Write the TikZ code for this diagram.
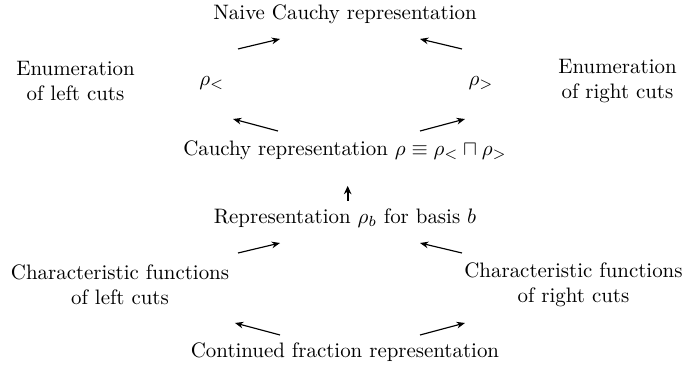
\documentclass[tikz,border=0pt]{standalone}
\usepackage{amsmath,amssymb}
\usepackage{tikz}
\usetikzlibrary{arrows.meta,positioning,calc}

\begin{document}
\begin{tikzpicture}[
    rep/.style={align=center, inner sep=1pt, font=\normalsize},
    arr/.style={-{Stealth[length=4pt,width=3.2pt]}, line width=0.55pt},
    bar/.style={-{Stealth[length=4pt,width=3.6pt]}, line width=1.1pt}
]
\useasboundingbox (0,0) rectangle (11.529,-6.185);
\node[rep] (naive) at (5.798,-0.235) {Naive Cauchy representation};
\node[rep] (enuml) at (1.269,-1.36) {Enumeration\\of left cuts};
\node[rep] (rhol) at (3.56,-1.395) {$\rho_<$};
\node[rep] (rhor) at (8.084,-1.395) {$\rho_>$};
\node[rep] (enumr) at (10.378,-1.36) {Enumeration\\of right cuts};
\node[rep] (cauchy) at (5.798,-2.521) {Cauchy representation $\rho\equiv\rho_<\sqcap\rho_>$};
\node[rep] (basis) at (5.798,-3.664) {Representation $\rho_b$ for basis $b$};
\node[rep] (charl) at (2.017,-4.790) {Characteristic functions\\of left cuts};
\node[rep] (charr) at (9.638,-4.790) {Characteristic functions\\of right cuts};
\node[rep] (cont) at (5.798,-5.916) {Continued fraction representation};

% arrow ends
\coordinate (a1s) at (4.000,-0.823); \coordinate (a1e) at (4.706,-0.655);
\coordinate (a2s) at (7.764,-0.823); \coordinate (a2e) at (7.059,-0.655);
\coordinate (a3s) at (4.672,-2.202); \coordinate (a3e) at (3.916,-2.000);
\coordinate (a4s) at (7.059,-2.202); \coordinate (a4e) at (7.815,-2.000);
\coordinate (a5s) at (4.000,-4.252); \coordinate (a5e) at (4.706,-4.084);
\coordinate (a6s) at (7.764,-4.252); \coordinate (a6e) at (7.059,-4.084);
\coordinate (a7s) at (4.706,-5.630); \coordinate (a7e) at (3.949,-5.428);
\coordinate (a8s) at (7.059,-5.630); \coordinate (a8e) at (7.815,-5.428);

\draw[arr] (a1s) -- (a1e);
\draw[arr] (a2s) -- (a2e);
\draw[arr] (a3s) -- (a3e);
\draw[arr] (a4s) -- (a4e);
\draw[bar] (basis.north -| 5.843,0) ++(0,0.09) -- ++(0,0.25);
\draw[arr] (a5s) -- (a5e);
\draw[arr] (a6s) -- (a6e);
\draw[arr] (a7s) -- (a7e);
\draw[arr] (a8s) -- (a8e);
\end{tikzpicture}
\end{document}
